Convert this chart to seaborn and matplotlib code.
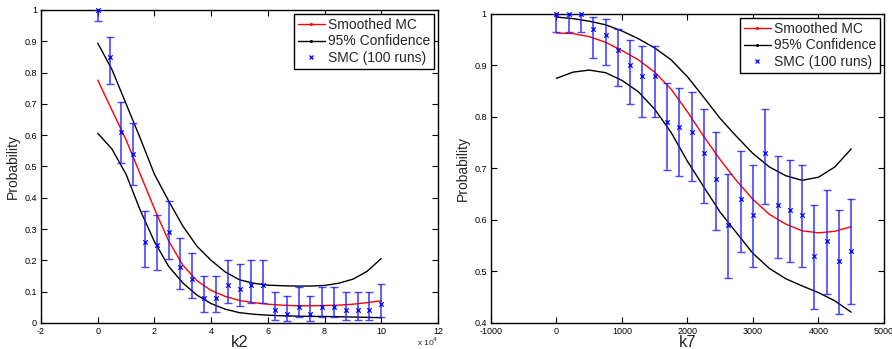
import matplotlib
matplotlib.use("Agg")
import matplotlib.pyplot as plt
import seaborn as sns
import pandas as pd
from matplotlib.lines import Line2D
from matplotlib.ticker import FuncFormatter, FixedLocator

sns.set_theme(style="white")
plt.rcParams['font.family'] = ['Liberation Sans', 'DejaVu Sans']

# ---------------- Left panel (k2) ----------------
k2_points = [0, 4167, 8333, 12500, 16667, 20833, 25000, 29167, 33333, 37500, 41667,
             45833, 50000, 54167, 58333, 62500, 66667, 70833, 75000, 79167, 83333,
             87500, 91667, 95833, 100000]
k2_smc = [1.00, 0.85, 0.61, 0.54, 0.26, 0.25, 0.29, 0.18, 0.14, 0.08, 0.08,
          0.12, 0.11, 0.12, 0.12, 0.04, 0.03, 0.05, 0.03, 0.05, 0.05,
          0.04, 0.04, 0.04, 0.06]
k2_lo = [0.965, 0.765, 0.51, 0.44, 0.178, 0.17, 0.205, 0.11, 0.08, 0.035, 0.035,
         0.065, 0.055, 0.065, 0.065, 0.01, 0.005, 0.02, 0.005, 0.02, 0.02,
         0.01, 0.01, 0.01, 0.02]
k2_hi = [1.00, 0.915, 0.705, 0.64, 0.357, 0.345, 0.39, 0.27, 0.225, 0.15, 0.15,
         0.20, 0.19, 0.20, 0.20, 0.10, 0.085, 0.115, 0.085, 0.115, 0.115,
         0.10, 0.10, 0.10, 0.125]

k2_curve_x = [0, 5000, 10000, 15000, 20000, 25000, 30000, 35000, 40000, 45000, 50000,
              55000, 60000, 65000, 70000, 75000, 80000, 85000, 90000, 95000, 100000]
k2_smooth = [0.776, 0.68, 0.585, 0.475, 0.365, 0.262, 0.185, 0.135, 0.104, 0.085, 0.072,
             0.065, 0.060, 0.057, 0.055, 0.055, 0.056, 0.057, 0.060, 0.065, 0.071]
k2_upper = [0.894, 0.81, 0.70, 0.59, 0.475, 0.39, 0.31, 0.245, 0.20, 0.163, 0.138,
            0.127, 0.121, 0.119, 0.118, 0.118, 0.120, 0.127, 0.140, 0.165, 0.206]
k2_lower = [0.606, 0.556, 0.475, 0.36, 0.26, 0.181, 0.128, 0.089, 0.062, 0.044, 0.033,
            0.028, 0.025, 0.023, 0.022, 0.021, 0.021, 0.020, 0.019, 0.018, 0.017]

k2_xticks = [-20000, 0, 20000, 40000, 60000, 80000, 100000, 120000]
k2_yticks = [0, 0.1, 0.2, 0.3, 0.4, 0.5, 0.6, 0.7, 0.8, 0.9, 1.0]

# ---------------- Right panel (k7) ----------------
k7_points = [0, 187.5, 375, 562.5, 750, 937.5, 1125, 1312.5, 1500, 1687.5, 1875,
             2062.5, 2250, 2437.5, 2625, 2812.5, 3000, 3187.5, 3375, 3562.5, 3750,
             3937.5, 4125, 4312.5, 4500]
k7_smc = [1.00, 1.00, 1.00, 0.97, 0.96, 0.93, 0.90, 0.88, 0.88, 0.79, 0.78,
          0.77, 0.73, 0.68, 0.59, 0.64, 0.61, 0.73, 0.63, 0.62, 0.61,
          0.53, 0.56, 0.52, 0.54]
k7_lo = [0.965, 0.965, 0.965, 0.915, 0.90, 0.86, 0.825, 0.80, 0.80, 0.697, 0.686,
         0.676, 0.633, 0.58, 0.488, 0.538, 0.508, 0.632, 0.527, 0.518, 0.508,
         0.428, 0.457, 0.418, 0.437]
k7_hi = [1.00, 1.00, 1.00, 0.995, 0.99, 0.97, 0.95, 0.937, 0.937, 0.865, 0.857,
         0.848, 0.815, 0.77, 0.689, 0.734, 0.706, 0.815, 0.725, 0.716, 0.706,
         0.63, 0.659, 0.62, 0.64]

k7_curve_x = [0, 250, 500, 750, 1000, 1250, 1500, 1750, 2000, 2250, 2500,
              2750, 3000, 3250, 3500, 3750, 4000, 4250, 4500]
k7_smooth = [0.963, 0.962, 0.956, 0.945, 0.929, 0.911, 0.887, 0.854, 0.810, 0.762, 0.717,
             0.676, 0.640, 0.611, 0.592, 0.579, 0.575, 0.578, 0.587]
k7_upper = [0.994, 0.991, 0.986, 0.979, 0.967, 0.952, 0.934, 0.911, 0.878, 0.838, 0.797,
            0.762, 0.729, 0.703, 0.686, 0.677, 0.683, 0.703, 0.738]
k7_lower = [0.875, 0.887, 0.891, 0.886, 0.871, 0.849, 0.815, 0.770, 0.714, 0.664, 0.615,
            0.575, 0.535, 0.506, 0.486, 0.472, 0.459, 0.443, 0.421]

k7_xticks = [-1000, 0, 1000, 2000, 3000, 4000, 5000]
k7_yticks = [0.4, 0.5, 0.6, 0.7, 0.8, 0.9, 1.0]

legend_labels = ["Smoothed MC", "95% Confidence", "SMC (100 runs)"]
xlabels = ["k2", "k7"]

fig = plt.figure(figsize=(8.92, 3.49), dpi=100)
axL = fig.add_axes([0.046, 0.0745, 0.445, 0.897])
axR = fig.add_axes([0.5504, 0.0745, 0.4406, 0.8855])

ERR_BLUE = '#1a1aff'


def fmt_num(v, pos=None):
    if abs(v - round(v)) < 1e-9:
        return str(int(round(v)))
    return ('%.1f' % v)


def draw(ax, px, smc, lo, hi, cx, sm, up, lw, xlim, ylim, xticks, yticks, xlabel, xscale=1.0):
    df_c = pd.DataFrame({'x': cx, 'sm': sm, 'up': up, 'lw': lw})
    sns.lineplot(data=df_c, x='x', y='up', ax=ax, color='black', lw=1.0)
    sns.lineplot(data=df_c, x='x', y='lw', ax=ax, color='black', lw=1.0)
    sns.lineplot(data=df_c, x='x', y='sm', ax=ax, color='red', lw=1.0)
    yerr = [[s - l for s, l in zip(smc, lo)], [h - s for s, h in zip(smc, hi)]]
    ax.errorbar(px, smc, yerr=yerr, fmt='none', ecolor=ERR_BLUE, elinewidth=1.2,
                capsize=3, capthick=1.0, alpha=0.8, zorder=3)
    df_p = pd.DataFrame({'x': px, 'y': smc})
    sns.scatterplot(data=df_p, x='x', y='y', ax=ax, marker='x', color='blue',
                    s=10, linewidth=0.9, zorder=4, clip_on=False)
    ax.set_xlim(*xlim)
    ax.set_ylim(*ylim)
    ax.xaxis.set_major_locator(FixedLocator(xticks))
    ax.yaxis.set_major_locator(FixedLocator(yticks))
    ax.xaxis.set_major_formatter(FuncFormatter(lambda v, p: fmt_num(v / xscale)))
    ax.yaxis.set_major_formatter(FuncFormatter(fmt_num))
    ax.tick_params(direction='in', length=4, width=0.8, labelsize=6.5, colors='black',
                   top=True, right=True, bottom=True, left=True, pad=3)
    for sp in ax.spines.values():
        sp.set_visible(True)
        sp.set_color('black')
        sp.set_linewidth(1.0)
    ax.set_xlabel(xlabel, fontsize=12, labelpad=-1)
    ax.set_ylabel('Probability', fontsize=10, labelpad=3)
    handles = [Line2D([0], [0], color='red', lw=1.0, marker='.', markersize=2.5),
               Line2D([0], [0], color='black', lw=1.0, marker='.', markersize=2.5),
               Line2D([0], [0], color='blue', lw=0, marker='x', markersize=3, markeredgewidth=0.9)]
    leg = ax.legend(handles, legend_labels, loc='upper right', fontsize=10,
                    frameon=True, fancybox=False, framealpha=1, edgecolor='black',
                    borderpad=0.25, labelspacing=0.2, handlelength=2.0, handletextpad=0.2,
                    borderaxespad=0.3)
    leg.get_frame().set_linewidth(1.0)


draw(axL, k2_points, k2_smc, k2_lo, k2_hi, k2_curve_x, k2_smooth, k2_upper, k2_lower,
     (-20000, 120000), (0, 1), k2_xticks, k2_yticks, xlabels[0], xscale=1e4)
fig.text(0.491, 0.004, r'x 10$^4$', fontsize=6, ha='right', va='bottom')

draw(axR, k7_points, k7_smc, k7_lo, k7_hi, k7_curve_x, k7_smooth, k7_upper, k7_lower,
     (-1000, 5000), (0.4, 1.0), k7_xticks, k7_yticks, xlabels[1])

fig.savefig('out.png', dpi=100, facecolor='white')
